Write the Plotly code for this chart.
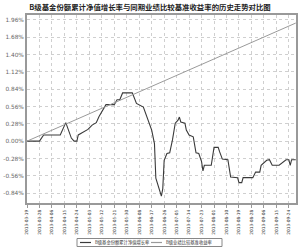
import plotly.graph_objects as go

title = "B级基金份额累计净值增长率与同期业绩比较基准收益率的历史走势对比图"
fund_name = "B级基金份额累计净值增长率"
bench_name = "B级业绩比较基准收益率"

fund_dates = ["2013-03-19", "2013-03-28", "2013-03-31", "2013-04-12", "2013-04-16", "2013-04-20",
              "2013-04-22", "2013-04-24", "2013-04-25", "2013-05-02", "2013-05-05", "2013-05-08",
              "2013-05-10", "2013-05-12", "2013-05-15", "2013-05-21", "2013-05-23", "2013-05-25",
              "2013-05-27", "2013-06-03", "2013-06-06", "2013-06-11", "2013-06-14", "2013-06-17",
              "2013-06-19", "2013-06-20", "2013-06-24", "2013-06-25", "2013-06-26", "2013-06-28",
              "2013-06-30", "2013-07-02", "2013-07-04", "2013-07-06", "2013-07-07", "2013-07-08",
              "2013-07-11", "2013-07-12", "2013-07-14", "2013-07-17", "2013-07-19", "2013-07-21",
              "2013-07-23", "2013-07-24", "2013-07-25", "2013-07-30", "2013-08-01", "2013-08-04",
              "2013-08-05", "2013-08-07", "2013-08-11", "2013-08-13", "2013-08-18", "2013-08-19",
              "2013-08-21", "2013-08-22", "2013-08-29", "2013-08-31", "2013-09-03", "2013-09-04",
              "2013-09-08", "2013-09-10", "2013-09-12", "2013-09-17", "2013-09-22", "2013-09-24",
              "2013-09-25", "2013-09-26", "2013-09-29"]
fund_values = [0.00, 0.00, 0.10, 0.10, 0.30, 0.05,
               0.00, 0.00, 0.10, 0.19, 0.26, 0.30,
               0.40, 0.47, 0.59, 0.59, 0.67, 0.67,
               0.78, 0.78, 0.61, 0.55, 0.37, 0.18,
               -0.04, -0.60, -0.89, -0.77, -0.31, -0.20,
               -0.19, 0.02, 0.29, 0.34, 0.39, 0.31,
               0.29, 0.18, 0.10, 0.07, -0.19, -0.20,
               -0.33, -0.48, -0.39, -0.39, -0.10, -0.10,
               -0.17, -0.29, -0.30, -0.58, -0.59, -0.67,
               -0.67, -0.59, -0.59, -0.50, -0.50, -0.39,
               -0.31, -0.30, -0.39, -0.39, -0.30, -0.30,
               -0.39, -0.30, -0.30]

bench_dates = ["2013-03-19", "2013-09-29"]
bench_values = [0.00, 1.91]

tick_dates = ["2013-03-19", "2013-03-28", "2013-04-06", "2013-04-15", "2013-04-24", "2013-05-03",
              "2013-05-12", "2013-05-21", "2013-05-30", "2013-06-08", "2013-06-17", "2013-06-26",
              "2013-07-05", "2013-07-14", "2013-07-23", "2013-08-01", "2013-08-10", "2013-08-19",
              "2013-08-28", "2013-09-06", "2013-09-15", "2013-09-24"]
y_ticks = [-0.84, -0.56, -0.28, 0.00, 0.28, 0.56, 0.84, 1.12, 1.40, 1.68, 1.96]
y_labels = ["-0.84%", "-0.56%", "-0.28%", "0.00%", "0.28%", "0.56%", "0.84%", "1.12%", "1.40%", "1.68%", "1.96%"]

FUND_COLOR = "#3a3a3a"
BENCH_COLOR = "#9a9a9a"

fig = go.Figure()
fig.add_trace(go.Scatter(x=fund_dates, y=fund_values, mode="lines", name=fund_name,
                         line=dict(color=FUND_COLOR, width=1.1)))
fig.add_trace(go.Scatter(x=bench_dates, y=bench_values, mode="lines", name=bench_name,
                         line=dict(color=BENCH_COLOR, width=1)))

# plot area in pixels: left 27, right 296, top 15, bottom 203
L, R, T, B = 27, 296, 15, 203
def px(xp):
    return (xp - L) / (R - L)
def py(yp):
    return (B - yp) / (B - T)

# manual compact legend (below tick labels)
box_l, box_r, box_t, box_b = 77, 222, 238.5, 246.5
ly = 242.5
shapes = [
    dict(type="rect", xref="paper", yref="paper", x0=px(box_l), x1=px(box_r), y0=py(box_b), y1=py(box_t),
         line=dict(color="#888", width=1), fillcolor="white", layer="above"),
    dict(type="line", xref="paper", yref="paper", x0=px(80), x1=px(91), y0=py(ly), y1=py(ly),
         line=dict(color=FUND_COLOR, width=1.2), layer="above"),
    dict(type="line", xref="paper", yref="paper", x0=px(151), x1=px(162), y0=py(ly), y1=py(ly),
         line=dict(color=BENCH_COLOR, width=1.2), layer="above"),
]
annotations = [
    dict(text=fund_name, xref="paper", yref="paper", x=px(93), y=py(ly), xanchor="left", yanchor="middle",
         showarrow=False, font=dict(family="Noto Sans CJK SC", size=4.3, color="#333")),
    dict(text=bench_name, xref="paper", yref="paper", x=px(164), y=py(ly), xanchor="left", yanchor="middle",
         showarrow=False, font=dict(family="Noto Sans CJK SC", size=4.3, color="#333")),
]

fig.update_layout(
    width=300, height=247,
    margin=dict(l=L, r=300 - R, t=T, b=247 - B, autoexpand=False),
    paper_bgcolor="white", plot_bgcolor="white",
    title=dict(text="<b>" + title + "</b>", x=0.5, xanchor="center", y=0.972, yanchor="middle",
               font=dict(family="Noto Sans CJK SC", size=7.4, color="#222")),
    showlegend=False,
    shapes=shapes, annotations=annotations,
    font=dict(family="DejaVu Sans", color="#555"),
)
fig.update_xaxes(
    type="date", range=["2013-03-19", "2013-09-29 04:00"],
    tickvals=tick_dates, ticktext=tick_dates, tickangle=-90,
    tickfont=dict(size=4.3, color="#333"),
    showgrid=True, gridcolor="#cfcfcf", griddash="dot", gridwidth=1,
    showline=True, linecolor="#999", linewidth=2, mirror=True,
    ticks="outside", ticklen=3, tickcolor="#999", zeroline=False, automargin=False,
)
fig.update_yaxes(
    range=[-1.0, 2.04], tickvals=y_ticks, ticktext=y_labels,
    tickfont=dict(size=5.8, color="#666"),
    showgrid=True, gridcolor="#cfcfcf", griddash="dot", gridwidth=1,
    showline=True, linecolor="#999", linewidth=2, mirror=True,
    ticks="", zeroline=False, automargin=False,
)
fig.write_html("out.html")
